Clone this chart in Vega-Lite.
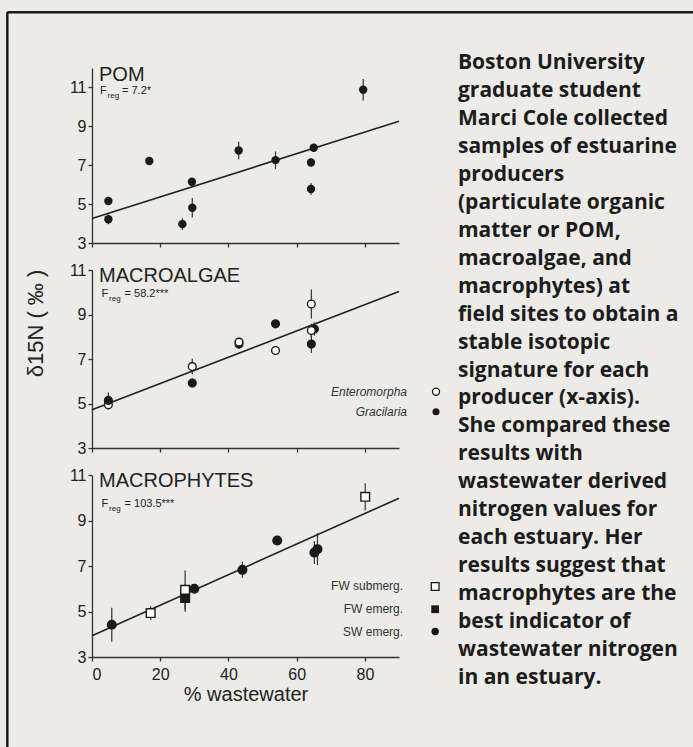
{
  "$schema": "https://vega.github.io/schema/vega-lite/v6.json",
  "autosize": "none",
  "padding": {"left": 92, "top": 68, "right": 601, "bottom": 679},
  "background": "#ecebe7",
  "config": {
    "view": {"stroke": null},
    "font": "Liberation Sans",
    "axis": {"domainColor": "#333", "tickColor": "#333", "labelColor": "#222", "labelFontSize": 16, "tickSize": 4, "labelPadding": 2, "grid": false, "domainWidth": 1.3, "tickWidth": 1.3}
  },
  "datasets": {
    "pts": [
      {"panel": "POM", "type": "POM", "x": 4.8, "y": 5.16, "err": 0.15},
      {"panel": "POM", "type": "POM", "x": 4.8, "y": 4.22, "err": 0.25},
      {"panel": "POM", "type": "POM", "x": 16.8, "y": 7.22, "err": 0.15},
      {"panel": "POM", "type": "POM", "x": 26.5, "y": 3.97, "err": 0.3},
      {"panel": "POM", "type": "POM", "x": 29.3, "y": 6.15, "err": 0.15},
      {"panel": "POM", "type": "POM", "x": 29.4, "y": 4.81, "err": 0.5},
      {"panel": "POM", "type": "POM", "x": 43.0, "y": 7.76, "err": 0.45},
      {"panel": "POM", "type": "POM", "x": 53.8, "y": 7.26, "err": 0.45},
      {"panel": "POM", "type": "POM", "x": 64.2, "y": 7.14, "err": 0.2},
      {"panel": "POM", "type": "POM", "x": 64.2, "y": 5.78, "err": 0.3},
      {"panel": "POM", "type": "POM", "x": 65.0, "y": 7.9, "err": 0.2},
      {"panel": "POM", "type": "POM", "x": 79.5, "y": 10.88, "err": 0.55},
      {"panel": "MACROALGAE", "type": "Enteromorpha", "x": 4.8, "y": 4.94, "err": 0.2},
      {"panel": "MACROALGAE", "type": "Gracilaria", "x": 4.8, "y": 5.14, "err": 0.35},
      {"panel": "MACROALGAE", "type": "Enteromorpha", "x": 29.4, "y": 6.66, "err": 0.35},
      {"panel": "MACROALGAE", "type": "Gracilaria", "x": 29.4, "y": 5.92, "err": 0.2},
      {"panel": "MACROALGAE", "type": "Gracilaria", "x": 43.1, "y": 7.67, "err": 0.2},
      {"panel": "MACROALGAE", "type": "Enteromorpha", "x": 43.1, "y": 7.76, "err": 0.2},
      {"panel": "MACROALGAE", "type": "Gracilaria", "x": 53.8, "y": 8.58, "err": 0.15},
      {"panel": "MACROALGAE", "type": "Enteromorpha", "x": 53.8, "y": 7.38, "err": 0.15},
      {"panel": "MACROALGAE", "type": "Enteromorpha", "x": 64.3, "y": 9.47, "err": 0.65},
      {"panel": "MACROALGAE", "type": "Gracilaria", "x": 64.3, "y": 7.67, "err": 0.4},
      {"panel": "MACROALGAE", "type": "Gracilaria", "x": 65.2, "y": 8.35, "err": 0.3},
      {"panel": "MACROALGAE", "type": "Enteromorpha", "x": 64.3, "y": 8.28, "err": 0.3},
      {"panel": "MACROPHYTES", "type": "SW emerg.", "x": 5.8, "y": 4.42, "err": 0.75},
      {"panel": "MACROPHYTES", "type": "FW submerg.", "x": 17.2, "y": 4.93, "err": 0.3},
      {"panel": "MACROPHYTES", "type": "FW emerg.", "x": 27.3, "y": 5.59, "err": 0.6},
      {"panel": "MACROPHYTES", "type": "FW submerg.", "x": 27.3, "y": 5.95, "err": 0.85},
      {"panel": "MACROPHYTES", "type": "SW emerg.", "x": 30.0, "y": 6.0, "err": 0.15},
      {"panel": "MACROPHYTES", "type": "SW emerg.", "x": 44.1, "y": 6.83, "err": 0.35},
      {"panel": "MACROPHYTES", "type": "SW emerg.", "x": 54.3, "y": 8.12, "err": 0.15},
      {"panel": "MACROPHYTES", "type": "SW emerg.", "x": 65.2, "y": 7.59, "err": 0.5},
      {"panel": "MACROPHYTES", "type": "SW emerg.", "x": 66.1, "y": 7.74, "err": 0.7},
      {"panel": "MACROPHYTES", "type": "FW submerg.", "x": 80.1, "y": 10.04, "err": 0.6}
    ],
    "fits": [
      {"panel": "POM", "x": 0, "y": 4.26},
      {"panel": "POM", "x": 90, "y": 9.26},
      {"panel": "MACROALGAE", "x": 0, "y": 4.72},
      {"panel": "MACROALGAE", "x": 90, "y": 10.03},
      {"panel": "MACROPHYTES", "x": 0, "y": 3.93},
      {"panel": "MACROPHYTES", "x": 90, "y": 9.98}
    ],
    "caption": [
      {"line": 1, "text": "Boston University"},
      {"line": 2, "text": "graduate student"},
      {"line": 3, "text": "Marci Cole collected"},
      {"line": 4, "text": "samples of estuarine"},
      {"line": 5, "text": "producers"},
      {"line": 6, "text": "(particulate organic"},
      {"line": 7, "text": "matter or POM,"},
      {"line": 8, "text": "macroalgae, and"},
      {"line": 9, "text": "macrophytes) at"},
      {"line": 10, "text": "field sites to obtain a"},
      {"line": 11, "text": "stable isotopic"},
      {"line": 12, "text": "signature for each"},
      {"line": 13, "text": "producer (x-axis)."},
      {"line": 14, "text": "She compared these"},
      {"line": 15, "text": "results with"},
      {"line": 16, "text": "wastewater derived"},
      {"line": 17, "text": "nitrogen values for"},
      {"line": 18, "text": "each estuary. Her"},
      {"line": 19, "text": "results suggest that"},
      {"line": 20, "text": "macrophytes are the"},
      {"line": 21, "text": "best indicator of"},
      {"line": 22, "text": "wastewater nitrogen"},
      {"line": 23, "text": "in an estuary."}
    ]
  },
  "spacing": 366,
  "bounds": "flush",
  "hconcat": [
    {
      "spacing": 27,
      "bounds": "flush",
      "vconcat": [
        {
          "width": 307, "height": 175,
          "layer": [
            {"data": {"name": "fits"}, "transform": [{"filter": "datum.panel === 'POM'"}], "mark": {"type": "line", "color": "#222", "strokeWidth": 1.6},
             "encoding": {
              "x": {"field": "x", "type": "quantitative", "scale": {"domain": [0, 90], "nice": false, "zero": false}, "axis": {"values": [0, 20, 40, 60, 80], "labels": false, "title": null}},
              "y": {"field": "y", "type": "quantitative", "scale": {"domain": [3, 12], "nice": false, "zero": false}, "axis": {"values": [3, 5, 7, 9, 11], "title": null}}}},
            {"data": {"name": "pts"}, "transform": [{"filter": "datum.panel === 'POM'"}], "mark": {"type": "errorbar", "color": "#333", "thickness": 1.2}, "encoding": {"x": {"field": "x", "type": "quantitative"}, "y": {"field": "y", "type": "quantitative"}, "yError": {"field": "err"}}},
            {"data": {"name": "pts"}, "transform": [{"filter": "datum.panel === 'POM'"}], "mark": {"type": "circle", "size": 70, "color": "#1a1a1a", "opacity": 1}, "encoding": {"x": {"field": "x", "type": "quantitative"}, "y": {"field": "y", "type": "quantitative"}}},
            {"data": {"values": [{"k": 1}]}, "mark": {"type": "rule", "color": "#1a1a1a", "strokeWidth": 2.5}, "encoding": {"x": {"datum": -24.83, "type": "quantitative"}, "y": {"datum": 14.87, "type": "quantitative"}, "y2": {"datum": -50}}},
            {"data": {"values": [{"k": 1}]}, "mark": {"type": "rule", "color": "#1a1a1a", "strokeWidth": 2.5}, "encoding": {"x": {"datum": -24.83, "type": "quantitative"}, "x2": {"datum": 200}, "y": {"datum": 14.87, "type": "quantitative"}}},
            {"data": {"values": [{"k": 1}]}, "mark": {"type": "text", "fontSize": 20, "align": "left", "baseline": "alphabetic", "color": "#222"}, "encoding": {"text": {"value": "POM"}, "x": {"datum": 2.05, "type": "quantitative"}, "y": {"datum": 11.31, "type": "quantitative"}}},
            {"data": {"values": [{"k": 1}]}, "mark": {"type": "text", "fontSize": 11, "align": "left", "baseline": "alphabetic", "color": "#222"}, "encoding": {"text": {"value": "F"}, "x": {"datum": 2.35, "type": "quantitative"}, "y": {"datum": 10.67, "type": "quantitative"}}},
            {"data": {"values": [{"k": 1}]}, "mark": {"type": "text", "fontSize": 8, "align": "left", "baseline": "alphabetic", "dx": 7.5, "dy": 4, "color": "#222"}, "encoding": {"text": {"value": "reg"}, "x": {"datum": 2.35, "type": "quantitative"}, "y": {"datum": 10.67, "type": "quantitative"}}},
            {"data": {"values": [{"k": 1}]}, "mark": {"type": "text", "fontSize": 11, "align": "left", "baseline": "alphabetic", "dx": 22, "color": "#222"}, "encoding": {"text": {"value": "= 7.2*"}, "x": {"datum": 2.35, "type": "quantitative"}, "y": {"datum": 10.67, "type": "quantitative"}}}
          ]
        },
        {
          "width": 307, "height": 178,
          "layer": [
            {"data": {"name": "fits"}, "transform": [{"filter": "datum.panel === 'MACROALGAE'"}], "mark": {"type": "line", "color": "#222", "strokeWidth": 1.6},
             "encoding": {
              "x": {"field": "x", "type": "quantitative", "scale": {"domain": [0, 90], "nice": false, "zero": false}, "axis": {"values": [0, 20, 40, 60, 80], "labels": false, "title": null}},
              "y": {"field": "y", "type": "quantitative", "title": "δ15N ( ‰ )", "scale": {"domain": [3, 11], "nice": false, "zero": false}, "axis": {"values": [3, 5, 7, 9, 11], "titleFontSize": 22, "titleFontWeight": "normal", "titleColor": "#222", "titleAngle": -90, "titleAlign": "center", "titleBaseline": "middle", "titleX": -57, "titleY": 53}}}},
            {"data": {"name": "pts"}, "transform": [{"filter": "datum.panel === 'MACROALGAE'"}], "mark": {"type": "errorbar", "color": "#333", "thickness": 1.2}, "encoding": {"x": {"field": "x", "type": "quantitative"}, "y": {"field": "y", "type": "quantitative", "title": "δ15N ( ‰ )"}, "yError": {"field": "err"}}},
            {"data": {"name": "pts"}, "transform": [{"filter": "datum.panel === 'MACROALGAE'"}], "mark": {"type": "point", "filled": true, "size": 60, "stroke": "#1a1a1a", "strokeWidth": 1.4, "opacity": 1}, "encoding": {
              "x": {"field": "x", "type": "quantitative"}, "y": {"field": "y", "type": "quantitative", "title": "δ15N ( ‰ )"},
              "shape": {"field": "type", "type": "nominal", "scale": {"domain": ["Enteromorpha", "Gracilaria", "FW submerg.", "FW emerg.", "SW emerg."], "range": ["circle", "circle", "square", "square", "circle"]}, "legend": null},
              "fill": {"field": "type", "type": "nominal", "scale": {"domain": ["Enteromorpha", "Gracilaria", "FW submerg.", "FW emerg.", "SW emerg."], "range": ["#ffffff", "#1a1a1a", "#ffffff", "#1a1a1a", "#1a1a1a"]}, "legend": null}}},
            {"data": {"values": [{"k": 1}]}, "mark": {"type": "text", "fontSize": 20, "align": "left", "baseline": "alphabetic", "color": "#222"}, "encoding": {"text": {"value": "MACROALGAE"}, "x": {"datum": 2.05, "type": "quantitative"}, "y": {"datum": 10.46, "type": "quantitative"}}},
            {"data": {"values": [{"k": 1}]}, "mark": {"type": "text", "fontSize": 11, "align": "left", "baseline": "alphabetic", "color": "#222"}, "encoding": {"text": {"value": "F"}, "x": {"datum": 2.8, "type": "quantitative"}, "y": {"datum": 9.8, "type": "quantitative"}}},
            {"data": {"values": [{"k": 1}]}, "mark": {"type": "text", "fontSize": 8, "align": "left", "baseline": "alphabetic", "dx": 7.5, "dy": 4, "color": "#222"}, "encoding": {"text": {"value": "reg"}, "x": {"datum": 2.8, "type": "quantitative"}, "y": {"datum": 9.8, "type": "quantitative"}}},
            {"data": {"values": [{"k": 1}]}, "mark": {"type": "text", "fontSize": 11, "align": "left", "baseline": "alphabetic", "dx": 23, "color": "#222"}, "encoding": {"text": {"value": "= 58.2***"}, "x": {"datum": 2.8, "type": "quantitative"}, "y": {"datum": 9.8, "type": "quantitative"}}},
            {"data": {"values": [{"k": 1}]}, "mark": {"type": "text", "fontSize": 12, "fontStyle": "italic", "align": "right", "baseline": "middle", "color": "#333"}, "encoding": {"text": {"value": "Enteromorpha"}, "x": {"datum": 92.35, "type": "quantitative"}, "y": {"datum": 5.53, "type": "quantitative"}}},
            {"data": {"values": [{"k": 1}]}, "mark": {"type": "text", "fontSize": 12, "fontStyle": "italic", "align": "right", "baseline": "middle", "color": "#333"}, "encoding": {"text": {"value": "Gracilaria"}, "x": {"datum": 92.35, "type": "quantitative"}, "y": {"datum": 4.63, "type": "quantitative"}}},
            {"data": {"values": [{"k": 1}]}, "mark": {"type": "point", "shape": "circle", "filled": true, "size": 50, "fill": "#ffffff", "stroke": "#1a1a1a", "strokeWidth": 1.3, "opacity": 1}, "encoding": {"x": {"datum": 100.85, "type": "quantitative"}, "y": {"datum": 5.53, "type": "quantitative"}}},
            {"data": {"values": [{"k": 1}]}, "mark": {"type": "point", "shape": "circle", "filled": true, "size": 50, "fill": "#1a1a1a", "opacity": 1}, "encoding": {"x": {"datum": 100.85, "type": "quantitative"}, "y": {"datum": 4.63, "type": "quantitative"}}}
          ]
        },
        {
          "width": 307, "height": 182,
          "layer": [
            {"data": {"name": "fits"}, "transform": [{"filter": "datum.panel === 'MACROPHYTES'"}], "mark": {"type": "line", "color": "#222", "strokeWidth": 1.6},
             "encoding": {
              "x": {"field": "x", "type": "quantitative", "title": "% wastewater", "scale": {"domain": [0, 90], "nice": false, "zero": false}, "axis": {"values": [0, 20, 40, 60, 80], "labelPadding": 5, "titleFontSize": 20, "titleFontWeight": "normal", "titleColor": "#222", "titleBaseline": "alphabetic", "titleY": 43}},
              "y": {"field": "y", "type": "quantitative", "scale": {"domain": [3, 11], "nice": false, "zero": false}, "axis": {"values": [3, 5, 7, 9, 11], "title": null}}}},
            {"data": {"name": "pts"}, "transform": [{"filter": "datum.panel === 'MACROPHYTES'"}], "mark": {"type": "errorbar", "color": "#333", "thickness": 1.2}, "encoding": {"x": {"field": "x", "type": "quantitative", "title": "% wastewater"}, "y": {"field": "y", "type": "quantitative"}, "yError": {"field": "err"}}},
            {"data": {"name": "pts"}, "transform": [{"filter": "datum.panel === 'MACROPHYTES'"}], "mark": {"type": "point", "filled": true, "size": 75, "stroke": "#1a1a1a", "strokeWidth": 1.4, "opacity": 1}, "encoding": {
              "x": {"field": "x", "type": "quantitative", "title": "% wastewater"}, "y": {"field": "y", "type": "quantitative"},
              "shape": {"field": "type", "type": "nominal", "scale": {"domain": ["Enteromorpha", "Gracilaria", "FW submerg.", "FW emerg.", "SW emerg."], "range": ["circle", "circle", "square", "square", "circle"]}, "legend": null},
              "fill": {"field": "type", "type": "nominal", "scale": {"domain": ["Enteromorpha", "Gracilaria", "FW submerg.", "FW emerg.", "SW emerg."], "range": ["#ffffff", "#1a1a1a", "#ffffff", "#1a1a1a", "#1a1a1a"]}, "legend": null}}},
            {"data": {"values": [{"k": 1}]}, "mark": {"type": "text", "fontSize": 20, "align": "left", "baseline": "alphabetic", "color": "#222"}, "encoding": {"text": {"value": "MACROPHYTES"}, "x": {"datum": 2.05, "type": "quantitative"}, "y": {"datum": 10.47, "type": "quantitative"}}},
            {"data": {"values": [{"k": 1}]}, "mark": {"type": "text", "fontSize": 11, "align": "left", "baseline": "alphabetic", "color": "#222"}, "encoding": {"text": {"value": "F"}, "x": {"datum": 2.8, "type": "quantitative"}, "y": {"datum": 9.58, "type": "quantitative"}}},
            {"data": {"values": [{"k": 1}]}, "mark": {"type": "text", "fontSize": 8, "align": "left", "baseline": "alphabetic", "dx": 7.5, "dy": 4, "color": "#222"}, "encoding": {"text": {"value": "reg"}, "x": {"datum": 2.8, "type": "quantitative"}, "y": {"datum": 9.58, "type": "quantitative"}}},
            {"data": {"values": [{"k": 1}]}, "mark": {"type": "text", "fontSize": 11, "align": "left", "baseline": "alphabetic", "dx": 23, "color": "#222"}, "encoding": {"text": {"value": "= 103.5***"}, "x": {"datum": 2.8, "type": "quantitative"}, "y": {"datum": 9.58, "type": "quantitative"}}},
            {"data": {"values": [{"k": 1}]}, "mark": {"type": "text", "fontSize": 12, "align": "right", "baseline": "middle", "color": "#333"}, "encoding": {"text": {"value": "FW submerg."}, "x": {"datum": 91.2, "type": "quantitative"}, "y": {"datum": 6.1, "type": "quantitative"}}},
            {"data": {"values": [{"k": 1}]}, "mark": {"type": "text", "fontSize": 12, "align": "right", "baseline": "middle", "color": "#333"}, "encoding": {"text": {"value": "FW emerg."}, "x": {"datum": 91.2, "type": "quantitative"}, "y": {"datum": 5.1, "type": "quantitative"}}},
            {"data": {"values": [{"k": 1}]}, "mark": {"type": "text", "fontSize": 12, "align": "right", "baseline": "middle", "color": "#333"}, "encoding": {"text": {"value": "SW emerg."}, "x": {"datum": 91.2, "type": "quantitative"}, "y": {"datum": 4.12, "type": "quantitative"}}},
            {"data": {"values": [{"k": 1}]}, "mark": {"type": "point", "shape": "square", "filled": true, "size": 60, "fill": "#ffffff", "stroke": "#1a1a1a", "strokeWidth": 1.3, "opacity": 1}, "encoding": {"x": {"datum": 100.6, "type": "quantitative"}, "y": {"datum": 6.1, "type": "quantitative"}}},
            {"data": {"values": [{"k": 1}]}, "mark": {"type": "point", "shape": "square", "filled": true, "size": 60, "fill": "#1a1a1a", "opacity": 1}, "encoding": {"x": {"datum": 100.6, "type": "quantitative"}, "y": {"datum": 5.1, "type": "quantitative"}}},
            {"data": {"values": [{"k": 1}]}, "mark": {"type": "point", "shape": "circle", "filled": true, "size": 55, "fill": "#1a1a1a", "opacity": 1}, "encoding": {"x": {"datum": 100.6, "type": "quantitative"}, "y": {"datum": 4.12, "type": "quantitative"}}}
          ]
        }
      ]
    },
    {
      "width": 230, "height": 615,
      "data": {"name": "caption"},
      "mark": {"type": "text", "font": "Open Sans", "fontWeight": "bold", "fontSize": 21, "align": "left", "baseline": "alphabetic", "color": "#1c1c1c", "dy": 1},
      "encoding": {
        "x": {"datum": 0, "scale": {"domain": [0, 1]}, "axis": null},
        "y": {"field": "line", "type": "quantitative", "scale": {"domain": [1, 23], "reverse": true, "nice": false, "zero": false}, "axis": null},
        "text": {"field": "text"}
      }
    }
  ]
}
